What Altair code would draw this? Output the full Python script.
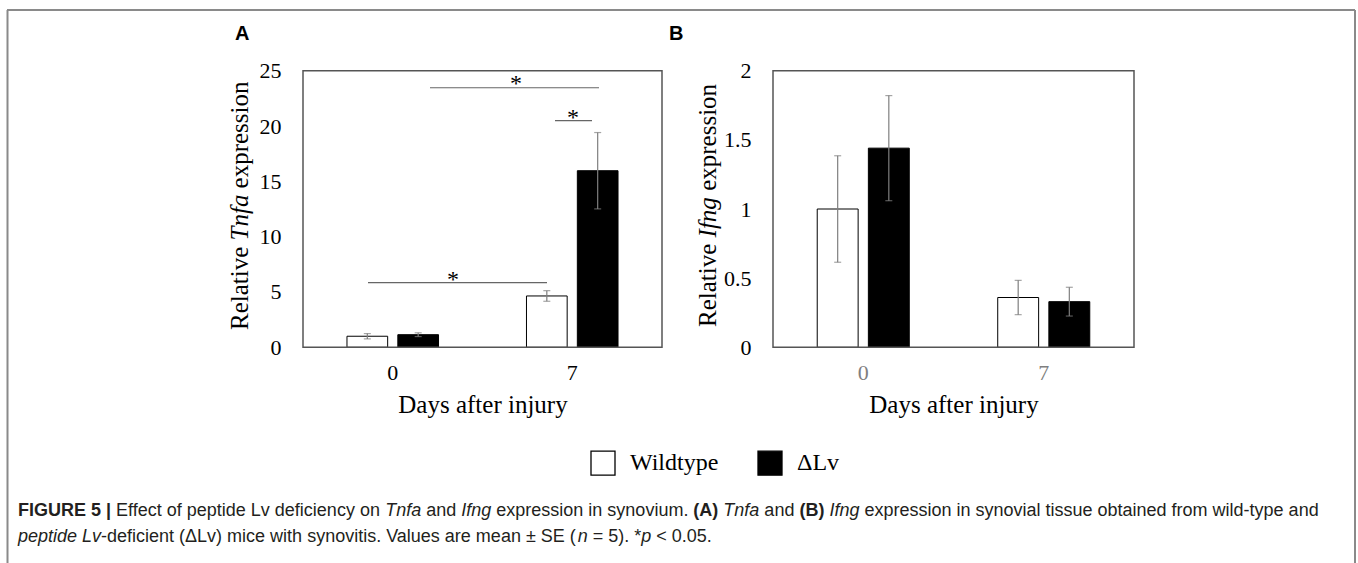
import altair as alt
import pandas as pd

# ---------------- data ----------------
days = ["0", "7"]
genotypes = ["Wildtype", "ΔLv"]
bar_day = ["0", "0", "7", "7"]
bar_geno = ["Wildtype", "ΔLv", "Wildtype", "ΔLv"]
tnfa_mean = [1.0, 1.14, 4.64, 15.96]
tnfa_se = [0.24, 0.17, 0.48, 3.45]
ifng_mean = [1.0, 1.44, 0.36, 0.33]
ifng_se = [0.385, 0.38, 0.124, 0.104]
tnfa_ticks = [0, 5, 10, 15, 20, 25]
ifng_ticks = [0, 0.5, 1, 1.5, 2]
sig_heights_a = [23.46, 20.48, 5.84]
star_heights_a = [24.3, 21.3, 6.62]

# ---------------- layout (pixels) ----------------
W, H = 1358, 563
AX0, AX1 = 303, 662
BX0, BX1 = 773, 1134
PY0, PY1 = 347.3, 70.7
SIG_X = [(430, 599), (555, 592), (368, 547)]
STAR_X = [516, 573, 453]
SERIF = "Liberation Serif"
SANS = "Liberation Sans"
GRAY = "#7f7f7f"
FRAME = "#555555"

# Arial / Liberation Sans advance widths (1/1000 em) used to lay out rich caption text
REG = {" ": 278, "(": 333, ")": 333, "*": 389, "-": 333, ".": 278, "|": 260, "<": 584,
       "=": 584, "±": 584, "Δ": 668, "A": 667, "B": 667, "E": 667, "F": 611, "G": 778,
       "I": 278, "L": 556, "R": 722, "S": 667, "T": 611, "U": 722, "V": 667,
       "a": 556, "b": 556, "c": 500, "d": 556, "e": 556, "f": 278, "g": 556, "h": 556,
       "i": 222, "j": 222, "k": 500, "l": 222, "m": 833, "n": 556, "o": 556, "p": 556,
       "q": 556, "r": 333, "s": 500, "t": 278, "u": 556, "v": 500, "w": 722, "x": 500,
       "y": 500, "z": 500}
for _d in "0123456789":
    REG[_d] = 556
BOLD = dict(REG)
BOLD.update({"|": 280, "A": 722, "B": 722, "(": 333, ")": 333})


def text_width(txt, weight, size):
    table = BOLD if weight == "bold" else REG
    return sum(table.get(c, 556) for c in txt) * size / 1000.0


def frame_df(mean, se):
    return pd.DataFrame({
        "day": bar_day,
        "genotype": bar_geno,
        "mean": mean,
        "lo": [m - s for m, s in zip(mean, se)],
        "hi": [m + s for m, s in zip(mean, se)],
    })


dfA = frame_df(tnfa_mean, tnfa_se)
dfB = frame_df(ifng_mean, ifng_se)
one = pd.DataFrame({"k": [0]})

color_enc = alt.Color(
    "genotype:N", sort=genotypes,
    scale=alt.Scale(domain=genotypes, range=["white", "black"]),
    legend=alt.Legend(
        orient="none", legendX=590, legendY=450, direction="horizontal",
        title=None, symbolType="square", symbolSize=576,
        symbolStrokeColor="black", symbolStrokeWidth=1.3,
        labelFont=SERIF, labelFontSize=24, labelColor="black",
        labelOffset=14, columnPadding=36, padding=0,
    ),
)


def panel(df, x0, x1, ymax, ticks, xlabel_color, fmt):
    x_enc = alt.X(
        "day:N", sort=days,
        scale=alt.Scale(range=[x0, x1], paddingInner=0.49, paddingOuter=0.245),
        axis=alt.Axis(
            orient="bottom", offset=-(H - PY0), domain=False, ticks=False,
            labelAngle=0, labelFont=SERIF, labelFontSize=22,
            labelColor=xlabel_color, labelPadding=15,
            title="Days after injury", titleFont=SERIF, titleFontSize=25,
            titleFontWeight="normal", titleColor="black", titlePadding=9,
            grid=False,
        ),
    )
    xo_enc = alt.XOffset(
        "genotype:N", sort=genotypes,
        scale=alt.Scale(paddingInner=0.2, paddingOuter=0),
    )
    y_axis = alt.Axis(
        orient="left", offset=-x0, domain=False, ticks=False, grid=False,
        values=ticks, format=fmt, labelFont=SERIF, labelFontSize=22,
        labelColor="black", labelPadding=22, title=None,
    )
    y_scale = alt.Scale(domain=[0, ymax], range=[PY0, PY1], nice=False)
    base = alt.Chart(df)
    bars = base.mark_bar(stroke="black", strokeWidth=1).encode(
        x=x_enc, xOffset=xo_enc,
        y=alt.Y("mean:Q", scale=y_scale, axis=y_axis),
        color=color_enc,
    )
    err = base.mark_rule(color=GRAY, strokeWidth=1.2).encode(
        x=x_enc, xOffset=xo_enc,
        y=alt.Y("lo:Q", scale=y_scale, axis=y_axis), y2="hi:Q",
    )
    cap_lo = base.mark_tick(color=GRAY, thickness=1.2, size=7).encode(
        x=x_enc, xOffset=xo_enc, y=alt.Y("lo:Q", scale=y_scale, axis=y_axis),
    )
    cap_hi = base.mark_tick(color=GRAY, thickness=1.2, size=7).encode(
        x=x_enc, xOffset=xo_enc, y=alt.Y("hi:Q", scale=y_scale, axis=y_axis),
    )
    return [bars, err, cap_lo, cap_hi], y_scale, y_axis


layersA, ysA, yaxA = panel(dfA, AX0, AX1, 25, tnfa_ticks, "black", "d")
for (sx0, sx1), h in zip(SIG_X, sig_heights_a):
    layersA.append(
        alt.Chart(one).mark_rule(color="#666666", strokeWidth=1.2).encode(
            x=alt.value(sx0), x2=alt.value(sx1),
            y=alt.Y(datum=h, scale=ysA, axis=yaxA),
        )
    )
for sx, h in zip(STAR_X, star_heights_a):
    layersA.append(
        alt.Chart(one).mark_text(text="*", font=SERIF, fontSize=24, baseline="middle",
                                 dy=6, color="black").encode(
            x=alt.value(sx), y=alt.Y(datum=h, scale=ysA, axis=yaxA),
        )
    )
panelA = alt.layer(*layersA)

layersB, ysB, yaxB = panel(dfB, BX0, BX1, 2, ifng_ticks, GRAY, "~g")
panelB = alt.layer(*layersB)

deco = []
# plot frames
for x0, x1 in [(AX0, AX1), (BX0, BX1)]:
    deco.append(alt.Chart(one).mark_rect(filled=False, stroke=FRAME, strokeWidth=1.5).encode(
        x=alt.value(x0), x2=alt.value(x1), y=alt.value(PY1), y2=alt.value(PY0)))

# figure border
BORDER = "#8a8a8a"
deco.append(alt.Chart(one).mark_rule(color=BORDER, strokeWidth=2).encode(
    x=alt.value(7), x2=alt.value(1355), y=alt.value(10)))
deco.append(alt.Chart(one).mark_rule(color=BORDER, strokeWidth=2).encode(
    x=alt.value(7.5), y=alt.value(10), y2=alt.value(H)))
deco.append(alt.Chart(one).mark_rule(color=BORDER, strokeWidth=2).encode(
    x=alt.value(1355), y=alt.value(10), y2=alt.value(H)))

# panel letters
for letter, lx in [("A", 235), ("B", 669)]:
    deco.append(alt.Chart(one).mark_text(text=letter, font=SANS, fontSize=20, fontWeight="bold",
                                         align="left", baseline="middle", color="black").encode(
        x=alt.value(lx), y=alt.value(34)))


# y-axis titles with italic gene names
def ytitle(xc, parts):
    out = []
    for txt, style, ystart in parts:
        out.append(alt.Chart(one).mark_text(text=txt, font=SERIF, fontSize=25, fontStyle=style,
                                            angle=270, align="left", baseline="middle",
                                            color="black").encode(
            x=alt.value(xc), y=alt.value(ystart)))
    return out


deco += ytitle(240, [("Relative", "normal", 330), ("Tnfa", "italic", 240.4), ("expression", "normal", 188.4)])
deco += ytitle(708, [("Relative", "normal", 327), ("Ifng", "italic", 237.4), ("expression", "normal", 190.8)])

# caption (rich text laid out segment by segment)
CAP_SIZE = 18
CAP_X0 = 18
line1 = [
    ("FIGURE 5 |", "bold", "normal"),
    ("Effect of peptide Lv deficiency on", "normal", "normal"),
    ("Tnfa", "normal", "italic"),
    ("and", "normal", "normal"),
    ("Ifng", "normal", "italic"),
    ("expression in synovium.", "normal", "normal"),
    ("(A)", "bold", "normal"),
    ("Tnfa", "normal", "italic"),
    ("and", "normal", "normal"),
    ("(B)", "bold", "normal"),
    ("Ifng", "normal", "italic"),
    ("expression in synovial tissue obtained from wild-type and", "normal", "normal"),
]
line2 = [
    ("peptide Lv", "normal", "italic", False),
    ("-deficient (ΔLv) mice with synovitis. Values are mean ± SE (", "normal", "normal", False),
    ("n", "normal", "italic", False),
    ("= 5). *", "normal", "normal", True),
    ("p", "normal", "italic", False),
    ("< 0.05.", "normal", "normal", True),
]
line1 = [(t, w, s, True) for t, w, s in line1]
line1[0] = (line1[0][0], line1[0][1], line1[0][2], False)
for line, yb in [(line1, 516), (line2, 542)]:
    xpos = CAP_X0
    for txt, weight, style, space_before in line:
        if space_before:
            xpos += text_width(" ", "normal", CAP_SIZE)
        deco.append(alt.Chart(one).mark_text(text=txt, font=SANS, fontSize=CAP_SIZE,
                                             fontWeight=weight, fontStyle=style,
                                             align="left", baseline="alphabetic",
                                             color="#231f20").encode(
            x=alt.value(xpos), y=alt.value(yb)))
        xpos += text_width(txt, weight, CAP_SIZE)

chart = alt.layer(panelA, panelB, *deco).resolve_scale(
    x="independent", y="independent", xOffset="independent"
).resolve_axis(
    x="independent", y="independent"
).properties(
    width=W, height=H, padding=0,
    autosize=alt.AutoSizeParams(type="none"),
).configure_view(stroke=None)

chart.save("out.html", embed_options={"renderer": "svg", "actions": False})
